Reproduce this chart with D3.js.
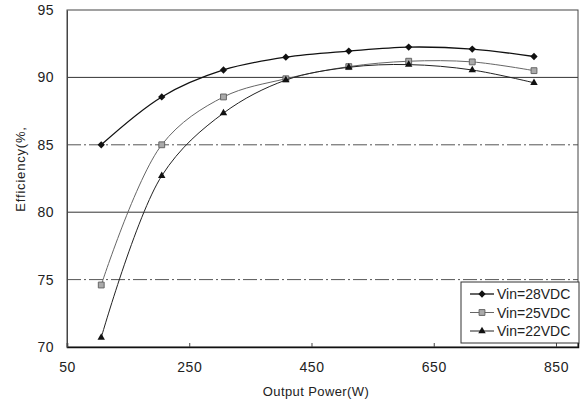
<!DOCTYPE html>
<html>
<head>
<meta charset="utf-8">
<script src="https://cdn.jsdelivr.net/npm/d3@7"></script>
<style>
  body { margin: 0; background: #fff; }
  text { font-family: "Liberation Sans", Arial, sans-serif; fill: #222; }
</style>
</head>
<body>
<svg id="chart" width="584" height="406"></svg>
<script>
// data
var power = [106, 205, 306, 408, 511, 609, 713, 814];
var vin28 = [85.0, 88.55, 90.55, 91.5, 91.95, 92.25, 92.1, 91.55];
var vin25 = [74.6, 85.0, 88.55, 89.9, 90.8, 91.2, 91.15, 90.5];
var vin22 = [70.7, 82.7, 87.35, 89.8, 90.75, 90.95, 90.55, 89.6];
var seriesNames = ["Vin=28VDC", "Vin=25VDC", "Vin=22VDC"];
var xTicks = [50, 250, 450, 650, 850];
var yTicks = [70, 75, 80, 85, 90, 95];

var svg = d3.select("#chart");
// plot box (note: "top" is taken by window.top, so use other names)
var plotL = 67, plotR = 578, plotT = 10, plotB = 347;

var x = d3.scaleLinear().domain([50, 886]).range([plotL, plotR]);
var y = d3.scaleLinear().domain([70, 95]).range([plotB, plotT]);

// gridlines
svg.append("g").selectAll("line")
  .data(yTicks.filter(function(d) { return d > 70 && d < 95; }))
  .enter().append("line")
  .attr("x1", plotL).attr("x2", plotR)
  .attr("y1", function(d) { return y(d); })
  .attr("y2", function(d) { return y(d); })
  .attr("stroke", function(d) { return d % 10 == 0 ? "#333" : "#555"; })
  .attr("stroke-width", 1)
  .attr("stroke-dasharray", function(d) { return d % 10 == 0 ? null : "14,3,2,3"; });

// plot frame
svg.append("rect")
  .attr("x", plotL).attr("y", plotT)
  .attr("width", plotR - plotL).attr("height", plotB - plotT)
  .attr("fill", "none").attr("stroke", "#444").attr("stroke-width", 1);

// axes
var xAxis = svg.append("g")
  .attr("transform", "translate(0," + plotB + ")")
  .call(d3.axisBottom(x).tickValues(xTicks).tickSize(-4).tickPadding(15));
xAxis.select(".domain").attr("stroke", "#111").attr("stroke-width", 1.5);
xAxis.selectAll(".tick line").attr("stroke", "#444");
xAxis.selectAll("text").attr("font-size", 14).attr("letter-spacing", 0.5).attr("fill", "#222");

var yAxis = svg.append("g")
  .attr("transform", "translate(" + plotL + ",0)")
  .call(d3.axisLeft(y).tickValues(yTicks).tickSize(0).tickPadding(13));
yAxis.select(".domain").attr("stroke", "#444");
yAxis.selectAll("text").attr("font-size", 14).attr("letter-spacing", 0.5).attr("fill", "#222");

// axis titles
svg.append("text")
  .attr("x", 316).attr("y", 396)
  .attr("text-anchor", "middle").attr("font-size", 13).attr("letter-spacing", 0.4)
  .text("Output Power(W)");

svg.append("text")
  .attr("transform", "translate(25,169) rotate(-90)")
  .attr("text-anchor", "middle").attr("font-size", 13).attr("letter-spacing", 0.8)
  .text("Efficiency(%,");

// series
var series = [
  {name: seriesNames[0], values: vin28, color: "#111", width: 1.3, marker: "diamond"},
  {name: seriesNames[1], values: vin25, color: "#666", width: 1, marker: "square"},
  {name: seriesNames[2], values: vin22, color: "#222", width: 1, marker: "triangle"}
];

var line = d3.line()
  .x(function(d) { return x(d.p); })
  .y(function(d) { return y(d.v); })
  .curve(d3.curveCatmullRom.alpha(0.5));

function symbolFor(m) {
  if (m == "diamond") return d3.symbol().type(d3.symbolDiamond2).size(34);
  if (m == "square") return d3.symbol().type(d3.symbolSquare).size(34);
  return d3.symbol().type(d3.symbolTriangle).size(24);
}

function markerFill(m) {
  return m == "square" ? "#aaa" : "#111";
}

series.forEach(function(s) {
  var pts = power.map(function(p, i) { return {p: p, v: s.values[i]}; });
  svg.append("path")
    .datum(pts)
    .attr("d", line)
    .attr("fill", "none")
    .attr("stroke", s.color)
    .attr("stroke-width", s.width);

  svg.append("g").selectAll("path")
    .data(pts)
    .enter().append("path")
    .attr("d", symbolFor(s.marker))
    .attr("transform", function(d) { return "translate(" + x(d.p) + "," + y(d.v) + ")"; })
    .attr("fill", markerFill(s.marker))
    .attr("stroke", s.marker == "square" ? "#666" : "none")
    .attr("stroke-width", 1);
});

// legend
var legend = svg.append("g").attr("transform", "translate(461,282)");
legend.append("rect")
  .attr("width", 118).attr("height", 61)
  .attr("fill", "#fff").attr("stroke", "#333").attr("stroke-width", 1);

series.forEach(function(s, i) {
  var row = legend.append("g").attr("transform", "translate(0," + (12 + i * 18.5) + ")");
  row.append("line")
    .attr("x1", 9).attr("x2", 33)
    .attr("stroke", s.color).attr("stroke-width", s.width);
  row.append("path")
    .attr("d", symbolFor(s.marker))
    .attr("transform", "translate(21,0)")
    .attr("fill", markerFill(s.marker))
    .attr("stroke", s.marker == "square" ? "#666" : "none");
  row.append("text")
    .attr("x", 36).attr("y", 5)
    .attr("font-size", 14)
    .text(s.name);
});
</script>
</body>
</html>
